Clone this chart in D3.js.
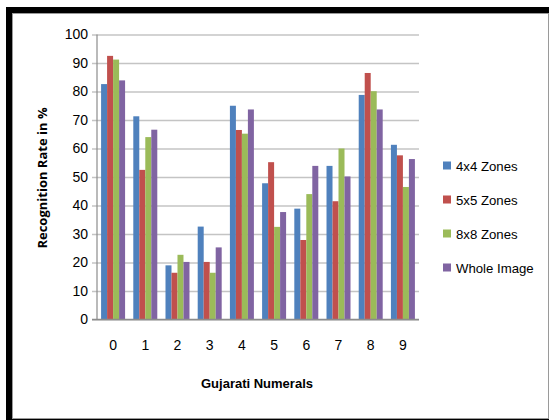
<!DOCTYPE html>
<html>
<head>
<meta charset="utf-8">
<script src="https://cdn.jsdelivr.net/npm/d3@7"></script>
<style>
  html, body { margin: 0; padding: 0; background: #fff; }
  svg { display: block; }
  text { font-family: "Liberation Sans", Arial, sans-serif; fill: #000; }
</style>
</head>
<body>
<svg id="chart" width="551" height="420"></svg>
<script>
// Digits 0-9 on the x axis
const categories = ["0", "1", "2", "3", "4", "5", "6", "7", "8", "9"];
const seriesNames = ["4x4 Zones", "5x5 Zones", "8x8 Zones", "Whole Image"];
const colors = ["#4F81BD", "#C0504D", "#9BBB59", "#8064A2"];

// Recognition rate (%) for each digit
const zones4x4 = [82.6, 71.3, 19.0, 32.6, 75.0, 47.8, 38.9, 53.9, 78.8, 61.3];
const zones5x5 = [92.5, 52.5, 16.4, 20.2, 66.5, 55.2, 27.9, 41.5, 86.5, 57.6];
const zones8x8 = [91.2, 64.0, 22.7, 16.4, 65.2, 32.5, 44.0, 60.0, 80.1, 46.5];
const wholeImage = [83.9, 66.6, 20.2, 25.3, 73.7, 37.7, 53.9, 50.2, 73.7, 56.3];

const yTicks = [0, 10, 20, 30, 40, 50, 60, 70, 80, 90, 100];

const series = [zones4x4, zones5x5, zones8x8, wholeImage];

const svg = d3.select("#chart");

// Frame with a dark drop edge on the top and left
svg.append("rect").attr("x", 6).attr("y", 7).attr("width", 543).attr("height", 413).attr("fill", "#000");
svg.append("rect").attr("x", 12.5).attr("y", 13.5).attr("width", 536).attr("height", 405)
  .attr("fill", "#fff").attr("stroke", "#9a9a9a").attr("stroke-width", 1);

const plot = { left: 97, right: 419, top: 34.5, bottom: 319.5 };

const x = d3.scaleBand().domain(categories).range([plot.left, plot.right]).paddingInner(0.255).paddingOuter(0.127);
const xs = d3.scaleBand().domain(d3.range(series.length)).range([0, x.bandwidth()]);
const y = d3.scaleLinear().domain([0, 100]).range([plot.bottom, plot.top]);

// Horizontal gridlines
const yAxis = d3.axisLeft(y).tickValues(yTicks).tickSize(-(plot.right - plot.left)).tickPadding(9).tickSizeOuter(0);
const gy = svg.append("g").attr("transform", `translate(${plot.left},0)`).call(yAxis);
gy.select(".domain").remove();
gy.selectAll(".tick line").attr("stroke", "#c4c4c4").attr("stroke-width", 1.6).attr("x1", -5);
gy.selectAll(".tick text").attr("font-size", 14).attr("fill", "#000").style("font-family", "\"Liberation Sans\", sans-serif");

// Bars
const groups = svg.append("g").selectAll("g")
  .data(categories)
  .join("g")
  .attr("transform", d => `translate(${x(d)},0)`);

groups.selectAll("rect")
  .data((d, i) => series.map((s, k) => ({ k, v: s[i] })))
  .join("rect")
  .attr("x", d => xs(d.k))
  .attr("width", xs.bandwidth())
  .attr("y", d => y(d.v))
  .attr("height", d => y(0) - y(d.v))
  .attr("fill", d => colors[d.k]);

// Axis lines
svg.append("line").attr("x1", plot.left).attr("x2", plot.left).attr("y1", plot.top).attr("y2", plot.bottom)
  .attr("stroke", "#8c8c8c").attr("stroke-width", 1.2);
svg.append("line").attr("x1", plot.left - 5).attr("x2", plot.right).attr("y1", plot.bottom).attr("y2", plot.bottom)
  .attr("stroke", "#8c8c8c").attr("stroke-width", 1.4);

// X axis labels
const xAxis = d3.axisBottom(x).tickSize(0).tickPadding(21);
const gx = svg.append("g").attr("transform", `translate(0,${plot.bottom})`).call(xAxis);
gx.select(".domain").remove();
gx.selectAll(".tick text").attr("font-size", 14).attr("fill", "#000").style("font-family", "\"Liberation Sans\", sans-serif");

// Axis titles
svg.append("text").attr("x", 257).attr("y", 388).attr("text-anchor", "middle")
  .attr("font-size", 13).attr("font-weight", "bold")
  .style("font-family", "\"Liberation Sans\", sans-serif")
  .text("Gujarati Numerals");
svg.append("text").attr("transform", "translate(47,178) rotate(-90)").attr("text-anchor", "middle")
  .attr("font-size", 13).attr("font-weight", "bold")
  .style("font-family", "\"Open Sans\", \"DejaVu Sans\", sans-serif")
  .text("Recognition Rate in %");

// Legend
const legend = svg.append("g").selectAll("g")
  .data(seriesNames)
  .join("g")
  .attr("transform", (d, i) => `translate(443,${166 + i * 34})`);
legend.append("rect").attr("x", 0).attr("y", -4.5).attr("width", 8).attr("height", 8).attr("fill", (d, i) => colors[i]);
legend.append("text").attr("x", 13).attr("y", 5).attr("font-size", 13.2)
  .style("font-family", "\"Liberation Sans\", sans-serif")
  .text(d => d);
</script>
</body>
</html>
